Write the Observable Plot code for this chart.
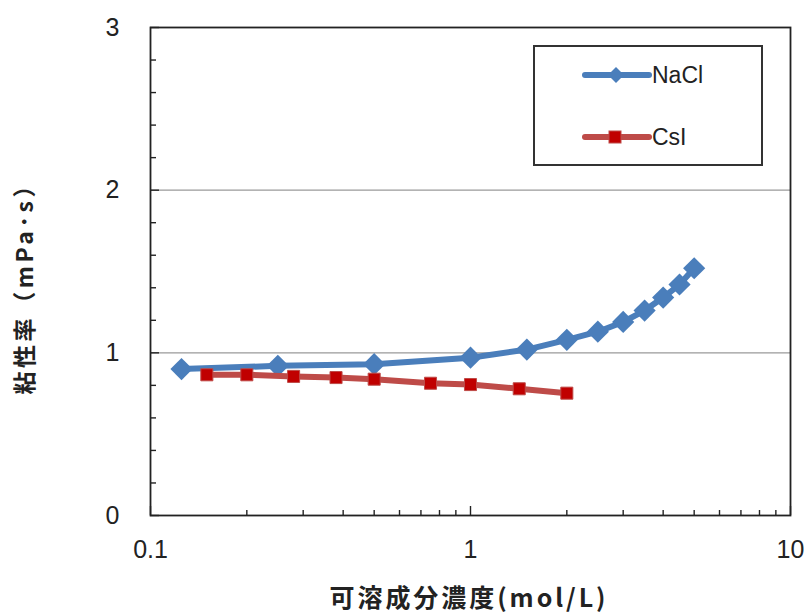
<!DOCTYPE html>
<html><head><meta charset="utf-8">
<script src="https://cdn.jsdelivr.net/npm/d3@7"></script>
<script src="https://cdn.jsdelivr.net/npm/@observablehq/plot@0.6"></script>
<style>
body{margin:0;background:#fff}
#wrap{position:relative;width:804px;height:613px}
#legend{position:absolute;left:533px;top:45px;width:226px;height:117px;border:2px solid #333;background:#fff;box-sizing:content-box}
</style>
</head><body><div id="wrap"></div>
<script>
const seriesNames = ["NaCl", "CsI"];
const naclConc = [0.125, 0.25, 0.5, 1, 1.5, 2, 2.5, 3, 3.5, 4, 4.5, 5];
const naclVisc = [0.90, 0.92, 0.93, 0.97, 1.02, 1.08, 1.13, 1.19, 1.26, 1.34, 1.42, 1.52];
const csiConc = [0.15, 0.2, 0.28, 0.38, 0.5, 0.75, 1, 1.42, 2];
const csiVisc = [0.865, 0.865, 0.855, 0.848, 0.838, 0.813, 0.805, 0.779, 0.752];
const xMajorTicks = [0.1, 1, 10];
const xMinorTicks = [0.2, 0.3, 0.4, 0.5, 0.6, 0.7, 0.8, 0.9, 2, 3, 4, 5, 6, 7, 8, 9];
const yMajorTicks = [0, 1, 2, 3];
const yMinorTicks = [0.2, 0.4, 0.6, 0.8, 1.2, 1.4, 1.6, 1.8, 2.2, 2.4, 2.6, 2.8];
const yGrid = [1, 2];
const xTitle = "可溶成分濃度(mol/L)";
const yTitle = "粘性率（mPa･s）";

const blue = "#4A7EBB", redLine = "#BE4B48", redMark = "#C00000";
const nacl = naclConc.map((c, i) => ({c, v: naclVisc[i]}));
const csi = csiConc.map((c, i) => ({c, v: csiVisc[i]}));
const cjk = "'Noto Sans CJK JP', 'Noto Sans', sans-serif";

const chart = Plot.plot({
  width: 804, height: 613,
  marginLeft: 150, marginRight: 14, marginTop: 27, marginBottom: 98,
  x: {type: "log", domain: [0.1, 10]},
  y: {domain: [0, 3]},
  style: {fontFamily: "'Liberation Sans', Arial, sans-serif", fontSize: "25px", color: "#222", background: "#fff"},
  marks: [
    Plot.ruleY(yGrid, {stroke: "#9a9a9a", strokeWidth: 1.2}),
    Plot.axisY({ticks: yMajorTicks, tickSize: 0, tickPadding: 31, tickFormat: d => String(d), label: null, fontSize: 25}),
    Plot.axisY({ticks: yMinorTicks, tickSize: -6, text: null, label: null, strokeWidth: 1.4}),
    Plot.axisY({ticks: yMajorTicks, tickSize: -9, text: null, label: null, strokeWidth: 1.4}),
    Plot.axisX({ticks: xMajorTicks, tickSize: 0, tickPadding: 25, tickFormat: d => String(d), label: null, fontSize: 25}),
    Plot.axisX({ticks: xMinorTicks, tickSize: -5, text: null, label: null, strokeWidth: 1.4}),
    Plot.axisX({ticks: xMajorTicks, tickSize: -9, text: null, label: null, strokeWidth: 1.4}),
    Plot.frame({stroke: "#222", strokeWidth: 1.8}),
    Plot.line(nacl, {x: "c", y: "v", stroke: blue, strokeWidth: 6}),
    Plot.dot(nacl, {x: "c", y: "v", symbol: "diamond2", r: 10, fill: blue, stroke: "none"}),
    Plot.line(csi, {x: "c", y: "v", stroke: redLine, strokeWidth: 6}),
    Plot.dot(csi, {x: "c", y: "v", symbol: "square", r: 6.8, fill: redMark, stroke: redLine, strokeWidth: 1}),
    Plot.text([yTitle], {text: d => d, frameAnchor: "left", textAnchor: "middle", lineAnchor: "middle", dx: -125, dy: 13, rotate: -90, fontFamily: cjk, fontWeight: "bold", fontSize: 23, fill: "#222"}),
    Plot.text([xTitle], {text: d => d, frameAnchor: "bottom", textAnchor: "middle", lineAnchor: "middle", dx: -3, dy: 83, fontFamily: cjk, fontWeight: "bold", fontSize: 25, fill: "#222"})
  ]
});
const wrap = document.getElementById("wrap");
wrap.appendChild(chart);

// spread the axis titles like the reference (letter spacing)
for (const t of chart.querySelectorAll("text")) {
  if (t.textContent === yTitle) { t.setAttribute("textLength", 220); t.setAttribute("lengthAdjust", "spacing"); }
  if (t.textContent === xTitle) { t.setAttribute("textLength", 276); t.setAttribute("lengthAdjust", "spacing"); }
}

// legend (inside plot area, as in the reference)
const leg = document.createElement("div");
leg.id = "legend";
const rows = [
  {name: seriesNames[0], color: blue, mark: "diamond", y: 28},
  {name: seriesNames[1], color: redLine, mark: "square", y: 90}
];
let svg = `<svg width="226" height="117" xmlns="http://www.w3.org/2000/svg" style="display:block">`;
for (const r of rows) {
  svg += `<line x1="50" x2="114" y1="${r.y}" y2="${r.y}" stroke="${r.color}" stroke-width="6" stroke-linecap="round"/>`;
  if (r.mark === "diamond") svg += `<path d="M81,${r.y-8}L89,${r.y}L81,${r.y+8}L73,${r.y}Z" fill="${blue}"/>`;
  else svg += `<rect x="74" y="${r.y-6}" width="12" height="12" fill="${redMark}" stroke="${redLine}"/>`;
  svg += `<text x="117" y="${r.y}" dy="0.36em" font-family="'Liberation Sans', Arial, sans-serif" font-size="23" fill="#222">${r.name}</text>`;
}
svg += `</svg>`;
leg.innerHTML = svg;
wrap.appendChild(leg);
</script>
</body></html>
